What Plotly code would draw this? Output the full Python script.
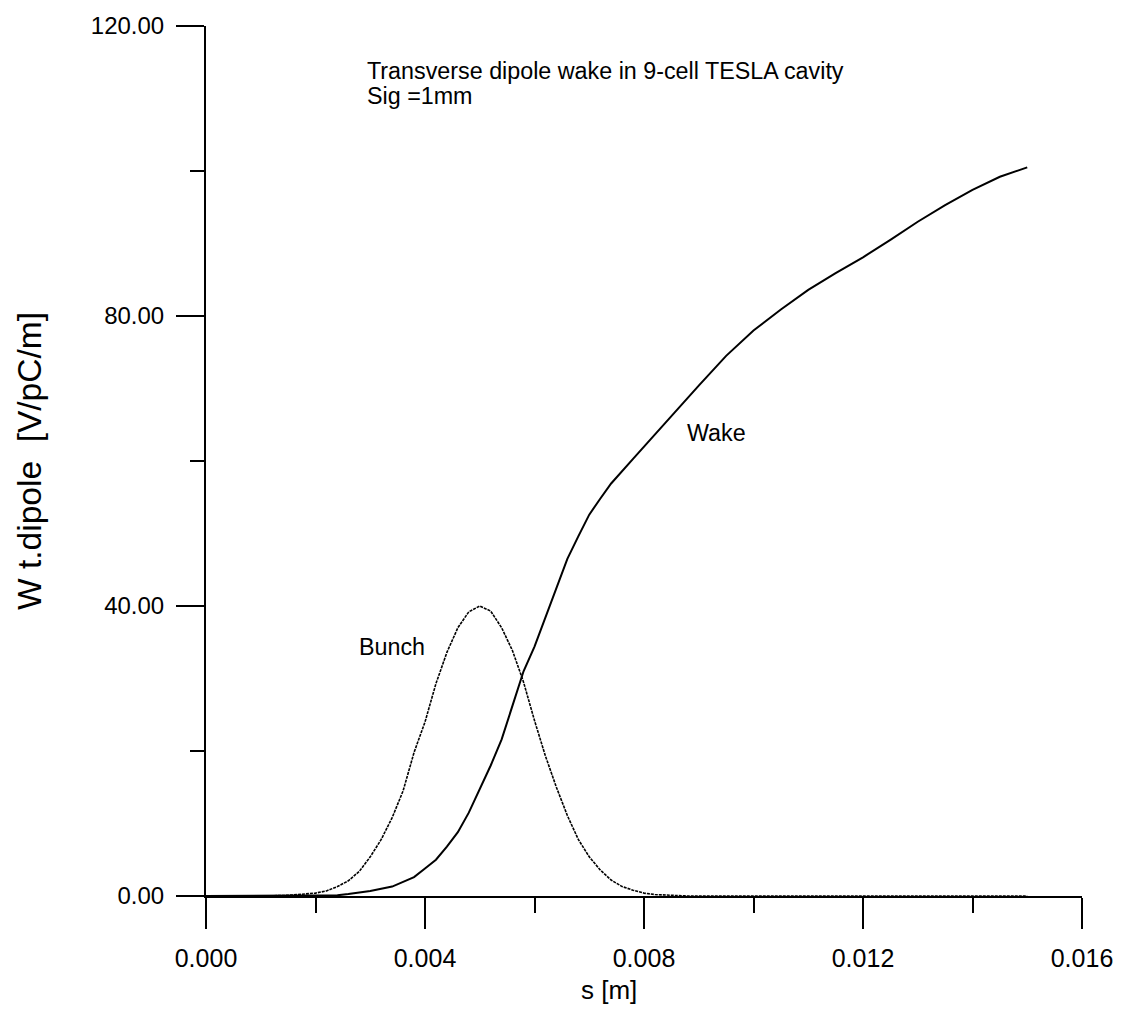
import plotly.graph_objects as go

# Bunch profile
s_bunch = [0.0, 0.0012, 0.0014, 0.0016, 0.0018, 0.0020, 0.0022, 0.0024, 0.0026, 0.0028,
           0.0030, 0.0032, 0.0034, 0.0036, 0.0038, 0.0040, 0.0042, 0.0044, 0.0046, 0.0048,
           0.0050, 0.0052, 0.0054, 0.0056, 0.0058, 0.0060, 0.0062, 0.0064, 0.0066, 0.0068,
           0.0070, 0.0072, 0.0074, 0.0076, 0.0078, 0.0080, 0.0082, 0.0084, 0.0086, 0.0088, 0.0150]
bunch = [0.0, 0.0, 0.05, 0.15, 0.25, 0.4, 0.7, 1.3, 2.1, 3.4,
         5.4, 7.8, 10.8, 14.5, 19.8, 24.0, 29.3, 33.6, 37.0, 39.2,
         40.0, 39.3, 37.0, 33.8, 29.5, 24.2, 19.3, 15.0, 11.1, 7.8,
         5.4, 3.6, 2.2, 1.3, 0.8, 0.4, 0.2, 0.1, 0.05, 0.0, 0.0]

# Transverse dipole wake
s_wake = [0.0, 0.0020, 0.0024, 0.0026, 0.0030, 0.0034, 0.0038, 0.0040, 0.0042, 0.0044,
          0.0046, 0.0048, 0.0050, 0.0052, 0.0054, 0.0056, 0.0058, 0.0060, 0.0062, 0.0064,
          0.0066, 0.0068, 0.0070, 0.0072, 0.0074, 0.0078, 0.0082, 0.0086, 0.0090, 0.0095,
          0.0100, 0.0105, 0.0110, 0.0115, 0.0120, 0.0125, 0.0130, 0.0135, 0.0140, 0.0145, 0.0150]
wake = [0.0, 0.0, 0.1, 0.27, 0.7, 1.3, 2.6, 3.8, 5.0, 6.8,
        8.8, 11.5, 14.7, 18.0, 21.6, 26.3, 31.0, 34.4, 38.4, 42.5,
        46.5, 49.6, 52.6, 54.8, 56.9, 60.3, 63.7, 67.0, 70.4, 74.5,
        78.0, 80.9, 83.6, 85.9, 88.1, 90.5, 93.0, 95.3, 97.4, 99.2, 100.5]

x_title = "s [m]"
y_title = "W t.dipole &nbsp;[V/pC/m]"

FONT = "Arial, Liberation Sans, sans-serif"

fig = go.Figure()
fig.add_trace(go.Scatter(x=s_bunch, y=bunch, mode="lines", name="Bunch",
                         line=dict(color="black", width=1.6, dash="3px,1px")))
fig.add_trace(go.Scatter(x=s_wake, y=wake, mode="lines", name="Wake",
                         line=dict(color="black", width=2)))

ann_font = dict(family=FONT, size=23.3, color="black")
fig.add_annotation(x=0.0029, y=113.8, text="Transverse dipole wake in 9-cell TESLA cavity",
                   xanchor="left", yanchor="middle", showarrow=False, font=ann_font)
fig.add_annotation(x=0.0029, y=110.4, text="Sig =1mm",
                   xanchor="left", yanchor="middle", showarrow=False, font=ann_font)
fig.add_annotation(x=0.00275, y=34.4, text="Bunch",
                   xanchor="left", yanchor="middle", showarrow=False, font=ann_font)
fig.add_annotation(x=0.00874, y=63.8, text="Wake",
                   xanchor="left", yanchor="middle", showarrow=False, font=ann_font)
# x-axis title (placed off-centre as in the original)
fig.add_annotation(xref="paper", yref="paper", x=0.4595, y=-0.1076, text=x_title,
                   xanchor="center", yanchor="middle", showarrow=False,
                   font=dict(family=FONT, size=26, color="black"))

fig.update_layout(
    width=1125, height=1014,
    margin=dict(l=206, r=42, t=22, b=118),
    paper_bgcolor="white", plot_bgcolor="white",
    showlegend=False,
    font=dict(family=FONT, color="black"),
    xaxis=dict(range=[0, 0.016], dtick=0.004, tick0=0, tickformat=".3f",
               showgrid=False, zeroline=False, showline=True, linecolor="black", linewidth=2,
               ticks="outside", ticklen=31, tickwidth=2, tickcolor="black",
               tickfont=dict(family=FONT, size=25, color="black"),
               ticklabelstandoff=8,
               minor=dict(dtick=0.002, ticks="outside", ticklen=15, tickwidth=2, tickcolor="black", showgrid=False)),
    yaxis=dict(range=[0, 120], dtick=40, tick0=0, tickformat=".2f",
               showgrid=False, zeroline=False, showline=True, linecolor="black", linewidth=2,
               ticks="outside", ticklen=28, tickwidth=2, tickcolor="black",
               tickfont=dict(family=FONT, size=24, color="black"),
               ticklabelstandoff=7,
               minor=dict(dtick=20, ticks="outside", ticklen=14, tickwidth=2, tickcolor="black", showgrid=False),
               title=dict(text=y_title, font=dict(family=FONT, size=33.5, color="black"), standoff=39)),
)

fig.write_html("out.html")
